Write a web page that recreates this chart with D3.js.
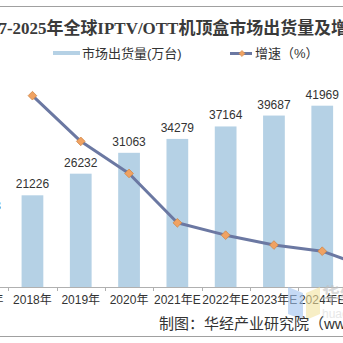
<!DOCTYPE html>
<html>
<head>
<meta charset="utf-8">
<script src="https://cdn.jsdelivr.net/npm/d3@7/dist/d3.min.js"></script>
<style>
  html, body { margin:0; padding:0; background:#fff; overflow:hidden; }
  svg { display:block; }
</style>
</head>
<body>
<div id="chart"></div>
<script>
/* shipments + growth, 2017-2025 (cropped view of a wider chart) */
const YEARS   = ["2017年","2018年","2019年","2020年","2021年E","2022年E","2023年E","2024年E","2025年E"];
const SHIP    = [16203, 21226, 26232, 31063, 34279, 37164, 39687, 41969, 43230];
const GROWTH  = [null, 31.0, 23.6, 18.4, 10.4, 8.4, 6.8, 5.8, 3.0];
const TITLE   = "2017-2025年全球IPTV/OTT机顶盒市场出货量及增速";
const LEGEND  = ["市场出货量(万台)", "增速（%）"];
const SOURCE  = "制图：华经产业研究院（www.huaon.com）";

const W = 343, H = 343;
const BAR = "#b5d1e5", LINE = "#6b78a2", DOT = "#f0a262", DOT_S = "#d08848";
const SANS = "'Liberation Sans', Arial, 'Noto Sans CJK SC', sans-serif";

const svg = d3.select("#chart").append("svg").attr("width", W).attr("height", H);

/* frame lines */
svg.append("line").attr("x1",0).attr("x2",W).attr("y1",6.5).attr("y2",6.5)
   .attr("stroke","#a0a0a0").attr("stroke-width",1.2);
svg.append("line").attr("x1",0).attr("x2",W).attr("y1",336.5).attr("y2",336.5)
   .attr("stroke","#a0a0a0").attr("stroke-width",1.2);

/* title (runs past both edges, like the source crop) */
svg.append("text").attr("x",-27).attr("y",34)
   .attr("font-family","'Liberation Serif','Noto Sans CJK SC',serif")
   .attr("font-weight","bold").attr("font-size",17).attr("fill","#3a3a3a")
   .attr("textLength",392).attr("lengthAdjust","spacingAndGlyphs")
   .text(TITLE);

/* scales */
const x = d3.scaleBand().domain(YEARS).range([-40, 394.7])
            .paddingInner(0.55).paddingOuter(0.275);
const step = x.step();
const y  = d3.scaleLinear().domain([0, 50000]).range([287, 71]);
const y2 = d3.scaleLinear().domain([0, 35]).range([287, 71]);

/* bars */
svg.selectAll("rect.bar").data(SHIP).enter().append("rect").attr("class","bar")
   .attr("x",(d,i)=>x(YEARS[i]))
   .attr("width",x.bandwidth())
   .attr("y",d=>y(d))
   .attr("height",d=>y(0)-y(d))
   .attr("fill",BAR);

/* bar value labels */
svg.selectAll("text.val").data(SHIP).enter().append("text").attr("class","val")
   .attr("x",(d,i)=>x(YEARS[i])+x.bandwidth()/2)
   .attr("y",d=>y(d)-7)
   .attr("text-anchor","middle")
   .attr("font-family",SANS).attr("font-size",12).attr("fill","#333")
   .text(d=>d);

/* x axis: line + ticks at category boundaries */
svg.append("line").attr("x1",0).attr("x2",W).attr("y1",287.5).attr("y2",287.5)
   .attr("stroke","#b0b0b0");
const bounds = d3.range(YEARS.length+1).map(i=>x.range()[0]+i*step);
svg.selectAll("line.tick").data(bounds).enter().append("line").attr("class","tick")
   .attr("x1",d=>Math.round(d)+0.5).attr("x2",d=>Math.round(d)+0.5)
   .attr("y1",287).attr("y2",291)
   .attr("stroke","#b0b0b0");
svg.selectAll("text.xl").data(YEARS).enter().append("text").attr("class","xl")
   .attr("x",d=>x(d)+x.bandwidth()/2)
   .attr("y",304)
   .attr("text-anchor","middle")
   .attr("font-family",SANS).attr("font-size",12).attr("fill","#333")
   .text(d=>d);

/* growth line */
const pts = GROWTH.map((g,i)=>({g, cx:x(YEARS[i])+x.bandwidth()/2})).filter(d=>d.g!=null);
svg.append("path").datum(pts)
   .attr("d", d3.line().x(d=>d.cx).y(d=>y2(d.g)))
   .attr("fill","none").attr("stroke",LINE).attr("stroke-width",3)
   .attr("stroke-linejoin","round");
const diamond = d3.symbol().type(d3.symbolDiamond2).size(48);
svg.selectAll("path.dot").data(pts).enter().append("path").attr("class","dot")
   .attr("transform",d=>`translate(${d.cx},${y2(d.g)})`)
   .attr("d",diamond)
   .attr("fill",DOT).attr("stroke",DOT_S).attr("stroke-width",0.8);

/* legend */
const lg = svg.append("g").attr("font-family",SANS).attr("font-size",13).attr("fill","#333");
lg.append("rect").attr("x",53).attr("y",51).attr("width",27).attr("height",4).attr("fill",BAR);
lg.append("text").attr("x",82).attr("y",58).text(LEGEND[0]);
lg.append("line").attr("x1",230).attr("x2",252).attr("y1",53.5).attr("y2",53.5)
  .attr("stroke",LINE).attr("stroke-width",3);
lg.append("path").attr("transform","translate(242,53.5)")
  .attr("d",d3.symbol().type(d3.symbolDiamond2).size(24))
  .attr("fill",DOT).attr("stroke",DOT_S).attr("stroke-width",0.6);
lg.append("text").attr("x",255).attr("y",58).text(LEGEND[1]);

/* watermark fragment */
const wm = svg.append("g").attr("opacity",0.6);
wm.append("path").attr("d","M288,287 L303,293 L303,320 L288,314 Z").attr("fill","#9fc3f0");
wm.append("path").attr("d","M306,293 L320,287 L320,314 L306,320 Z").attr("fill","#f3e3a0");
wm.append("text").attr("x",322).attr("y",301).attr("font-family",SANS)
  .attr("font-size",18).attr("font-weight","bold").attr("fill","#c0c0c0").text("华经");
wm.append("text").attr("x",322).attr("y",318).attr("font-family",SANS)
  .attr("font-size",12).attr("fill","#d8d8d8").text("huaon");

/* source */
svg.append("text").attr("x",159).attr("y",329)
   .attr("font-family",SANS).attr("font-size",15).attr("fill","#333")
   .text(SOURCE);
</script>
</body>
</html>
